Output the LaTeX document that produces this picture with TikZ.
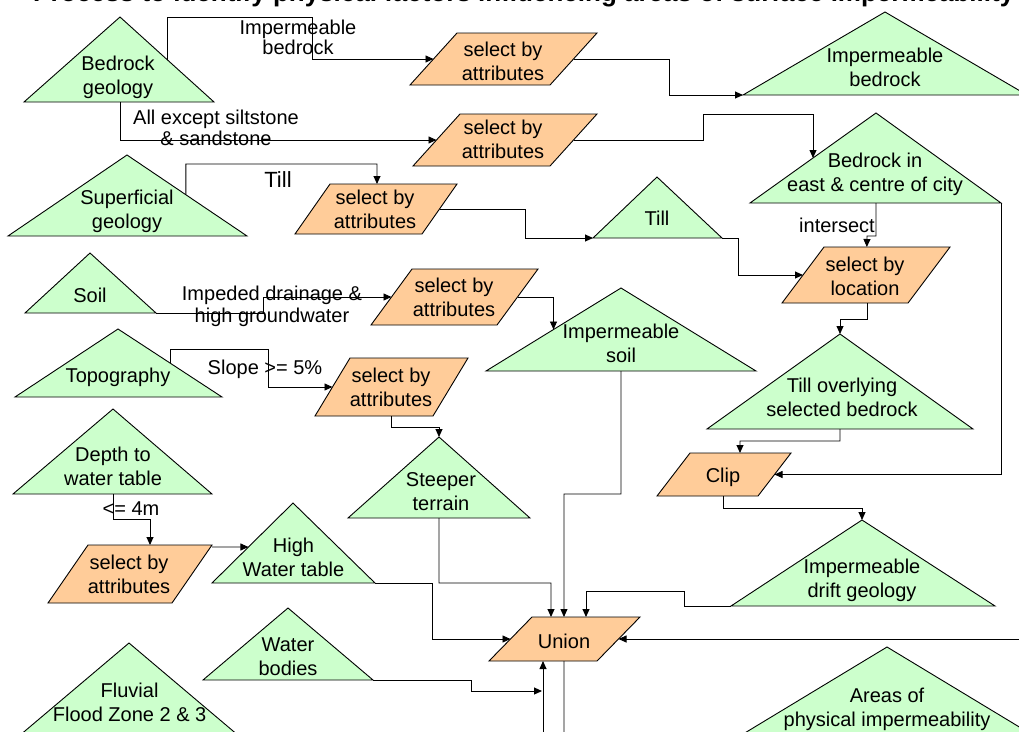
\documentclass[tikz,border=0pt]{standalone}
\usepackage{fontspec}
\setmainfont{Liberation Sans}
\usetikzlibrary{calc,arrows.meta}
\definecolor{geofill}{HTML}{CCFFCC}
\definecolor{procfill}{HTML}{FFCC99}

% data layer: name, apex x, apex y, base left x, base right x, base y
\newcommand\datatri[6]{%
  \coordinate (#1-t) at (#2,#3);
  \coordinate (#1-l) at (#4,#6);
  \coordinate (#1-r) at (#5,#6);
  \coordinate (#1-b) at (#2,#6);
  \path[datashape] (#1-t) -- (#1-r) -- (#1-l) -- cycle;}

% process step: name, bottom-left x, slant, width, top y, bottom y
\newcommand\procbox[6]{%
  \coordinate (#1-bl) at (#2,#6);
  \coordinate (#1-tl) at ({#2+#3},#5);
  \coordinate (#1-tr) at ({#2+#3+#4},#5);
  \coordinate (#1-br) at ({#2+#4},#6);
  \coordinate (#1-w) at ($(#1-bl)!0.5!(#1-tl)$);
  \coordinate (#1-e) at ($(#1-br)!0.5!(#1-tr)$);
  \path[procshape] (#1-bl) -- (#1-tl) -- (#1-tr) -- (#1-br) -- cycle;}

\begin{document}
\begin{tikzpicture}[x=1pt,y=-1pt,
  datashape/.style={fill=geofill,draw=black,line width=0.9pt},
  procshape/.style={fill=procfill,draw=black,line width=0.9pt},
  txt/.style={align=center,inner sep=0pt,font=\fontsize{20}{24}\selectfont},
  conn/.style={draw=black,line width=0.9pt,-{Triangle[length=8pt,width=7pt]}},
  wire/.style={draw=black,line width=0.9pt}]
\useasboundingbox (0,0) rectangle (1019,731);

% heading, running above the top edge of the sheet
\node[anchor=base west,inner sep=0pt,font=\bfseries\fontsize{26}{30}\selectfont] (title) at (33,1)
  {Process to identify physical factors influencing areas of surface impermeability};

% data layers
\datatri{bg}{120}{17}{24}{214}{102}
\datatri{sup}{127}{155}{8}{247}{236}
\datatri{ib}{885}{12}{743}{1027}{95}
\datatri{bic}{876}{113}{750}{1001}{203}
\datatri{till}{657}{177}{593}{722}{238}
\datatri{soil}{90}{253}{25}{156}{313}
\datatri{topo}{118}{329}{15}{222}{397}
\datatri{dwt}{113}{409}{13}{212}{494}
\datatri{st}{439}{437}{348}{530}{518}
\datatri{isoil}{621}{288}{486}{756}{371}
\datatri{tob}{840}{334}{707}{973}{429}
\datatri{hwt}{293}{503}{212}{375}{583}
\datatri{wb}{288}{608}{203}{373}{680}
\datatri{ffz}{129}{643}{-33}{291}{780}
\datatri{idg}{862}{520}{731}{995}{606}
\datatri{apm}{887}{647}{667}{1107}{780}

% process steps
\procbox{sa1}{410}{47}{140}{33}{85}
\procbox{sa2}{413}{47}{137}{114}{166}
\procbox{sa3}{295}{35}{127}{184}{234}
\procbox{sa4}{371}{41}{126}{269}{325}
\procbox{sa5}{315}{35}{118}{358}{416}
\procbox{sa6}{48}{40}{124}{545}{603}
\procbox{sbl}{782}{42}{126}{247}{303}
\procbox{clip}{657}{33}{101}{453}{496}
\procbox{union}{489}{43}{108}{617}{661}

% layer and step labels
\node[txt] (bg) at (118,76.9) {Bedrock\\geology};
\node[txt] (sup) at (127,210.9) {Superficial\\geology};
\node[txt] (ib) at (885,67.8) {Impermeable\\bedrock};
\node[txt] (bic) at (875,174) {Bedrock in\\east \& centre of city};
\node[txt] (till) at (657,218) {Till};
\node[txt] (soil) at (90,295) {Soil};
\node[txt] (topo) at (118,377) {Topography};
\node[txt] (dwt) at (113,466.8) {Depth to\\water table};
\node[txt] (st) at (441,491.8) {Steeper\\terrain};
\node[txt] (isoil) at (621,343.8) {Impermeable\\soil};
\node[txt] (tob) at (842,397.8) {Till overlying\\selected bedrock};
\node[txt] (hwt) at (293.5,557.8) {High\\Water table};
\node[txt] (wb) at (288,656.8) {Water\\bodies};
\node[txt] (ffz) at (129.6,702.8) {Fluvial\\Flood Zone 2 \& 3};
\node[txt] (idg) at (862,579.9) {Impermeable\\drift geology};
\node[txt] (apm) at (887,708.9) {Areas of\\physical impermeability};
\node[txt] (sa1) at (503,61.8) {select by\\attributes};
\node[txt] (sa2) at (503,139.8) {select by\\attributes};
\node[txt] (sa3) at (375,209.8) {select by\\attributes};
\node[txt] (sa4) at (454,297.8) {select by\\attributes};
\node[txt] (sa5) at (391,387.8) {select by\\attributes};
\node[txt] (sa6) at (129,574.8) {select by\\attributes};
\node[txt] (sbl) at (865,276) {select by\\location};
\node[txt] (clip) at (723,477) {Clip};
\node[txt] (union) at (564,641) {Union};

% connector labels
\node[txt,font=\fontsize{20}{20}\selectfont] (l-imp) at (298,37.8) {Impermeable\\bedrock};
\node[txt,font=\fontsize{20}{21}\selectfont] (l-all) at (216,128.3) {All except siltstone\\\& sandstone};
\node[txt,font=\fontsize{22}{26}\selectfont] (l-till) at (278,180) {Till};
\node[txt,font=\fontsize{20}{22}\selectfont] (l-imped) at (272,305.9) {Impeded drainage \&\\high groundwater};
\node[txt] (l-slope) at (265,368.9) {Slope >= 5\%};
\node[txt] (l-int) at (837,225) {intersect};
\node[txt] (l-4m) at (131,509) {<= 4m};

% free ends running off the sheet
\coordinate (wbin) at (542,691);
\coordinate (fzin) at (543,745);
\coordinate (uout) at (564,745);
\coordinate (eastin) at (1030,639);

% connectors
\draw[conn] ($(bg-t)!0.5!(bg-r)$) |- (312,17) |- (sa1-w);
\draw[conn] (bg-b) |- (sa2-w);
\draw[conn] ($(sup-t)!0.49!(sup-r)$) |- (377,164) -- ($(sa3-tl)!0.37!(sa3-tr)$);
\draw[conn] (sa1-e) -| (669,95) -- (ib-l);
\draw[conn] (sa2-e) -| (703,114) -| ($(bic-t)!0.5!(bic-l)$);
\draw[conn] (sa3-e) -| (525,238) -- (till-l);
\draw[conn] (bic-b) |- (867,236) -- ($(sbl-tl)!0.34!(sbl-tr)$);
\draw[conn] (till-r) -| (738,275) -- (sbl-w);
\draw[conn] ($(sbl-bl)!0.675!(sbl-br)$) |- (840,319) -- (tob-t);
\draw[conn] (tob-b) |- (740,441) -- ($(clip-tl)!0.495!(clip-tr)$);
\draw[conn] (bic-r) |- (clip-e);
\draw[conn] ($(clip-bl)!0.653!(clip-br)$) |- (862,508) -- (idg-t);
\draw[conn] (idg-l) -| (684,591) -| ($(union-tl)!0.5!(union-tr)$);
\draw[conn] (isoil-b) |- (564,494) -- ($(union-tl)!0.296!(union-tr)$);
\draw[conn] (st-b) |- (551,583) -- ($(union-tl)!0.176!(union-tr)$);
\draw[conn] (hwt-r) -| (432,639) -- (union-w);
\draw[conn] (wb-r) -| (471,691) -- (wbin);
\draw[conn] (fzin) -- ($(union-bl)!0.5!(union-br)$);
\draw[wire] ($(union-bl)!0.694!(union-br)$) -- (uout);
\draw[conn] (eastin) -- (union-e);
\draw[conn] (soil-r) -| (263,297) -- (sa4-w);
\draw[conn] ($(topo-t)!0.5!(topo-r)$) |- (268,349) |- (sa5-w);
\draw[conn] (sa4-e) -| ($(isoil-t)!0.5!(isoil-l)$);
\draw[conn] ($(sa5-bl)!0.65!(sa5-br)$) |- (439,427) -- (st-t);
\draw[conn] (dwt-b) |- (150,519) -- ($(sa6-tl)!0.5!(sa6-tr)$);
\draw[conn] ([yshift=-2pt]sa6-tr) -- ($(hwt-t)!0.55!(hwt-l)$);
\end{tikzpicture}
\end{document}
